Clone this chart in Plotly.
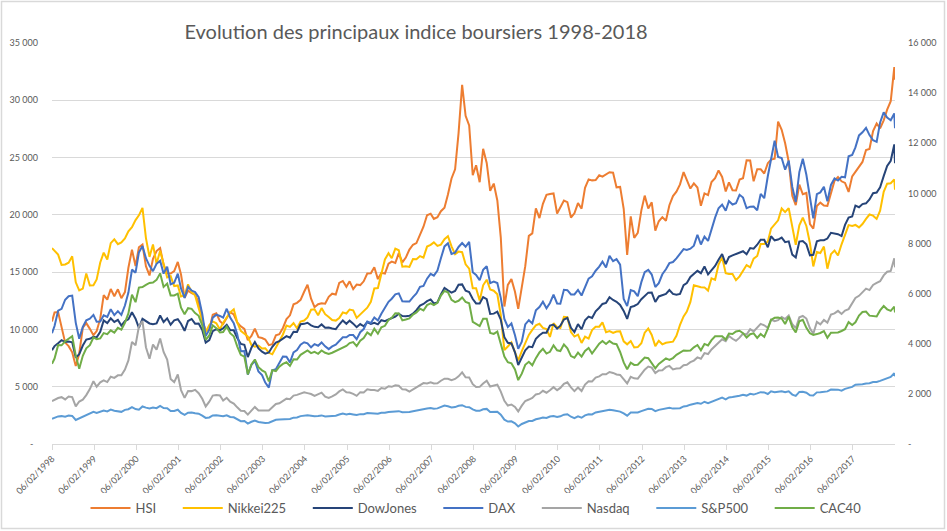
import pandas as pd
import plotly.graph_objects as go

# ---------------- data (start 06/02/1998, month-end values Feb-1998 .. Jan-2018, end 06/02/2018) -------------
start_date = "1998-02-06"
end_date = "2018-02-06"

HSI = [10700,
    11480, 11520, 10240, 8850, 8540, 8000, 6800, 7880, 10150, 10550, 10050,
    9500, 9860, 10940, 13000, 12600, 13530, 12900, 13500, 12730, 13260, 15380, 16960,
    15530, 17170, 17400, 15520, 14710, 16160, 16840, 17100, 15650, 14900, 14880, 15100,
    15890, 14790, 12760, 13390, 13170, 13040, 12320, 10770, 9950, 9970, 11280, 11400,
    10720, 10480, 11030, 11500, 11300, 10600, 10270, 10040, 9070, 9440, 10070, 9320,
    9250, 9120, 8630, 8720, 9490, 9580, 10130, 10900, 11230, 12190, 12320, 12580,
    13290, 13900, 12680, 11940, 12200, 12290, 12240, 12850, 13120, 13050, 14060, 14230,
    13720, 14200, 13520, 13910, 13870, 14200, 14880, 14900, 15430, 14390, 14940, 14880,
    15750, 15920, 15800, 16660, 15860, 16270, 16970, 17390, 17540, 18320, 18960, 19960,
    20100, 19650, 19800, 20320, 20630, 21770, 23180, 23980, 27140, 31350, 28640, 27810,
    23460, 24330, 22850, 25760, 24530, 22100, 22730, 21260, 18020, 12000, 13890, 14390,
    13280, 11800, 13580, 15520, 18170, 18380, 20570, 19720, 20960, 21750, 21820, 21870,
    20120, 20610, 21240, 21110, 19770, 20130, 21030, 20540, 22360, 23100, 23010, 23040,
    23450, 23340, 23530, 23720, 23680, 22400, 22440, 20530, 16500, 19860, 17990, 18430,
    20390, 21680, 20560, 21090, 18630, 19440, 19800, 19480, 20840, 21640, 22030, 22660,
    23730, 23020, 22300, 22740, 22390, 20800, 21880, 21730, 22860, 23210, 23880, 23310,
    22040, 22840, 22150, 22130, 23080, 23190, 24760, 24740, 22930, 23990, 23990, 23610,
    24510, 24820, 24900, 28130, 27420, 26250, 24640, 21670, 20850, 22640, 21800, 21910,
    19200, 18800, 20780, 21070, 20820, 20790, 21890, 22980, 23300, 22930, 22790, 22000,
    23360, 23740, 24110, 24620, 25660, 25760, 27320, 27970, 27550, 28250, 29180, 29920,
    32890,
    31800]

Nikkei225 = [17100,
    16830, 16530, 15640, 15670, 15830, 16380, 14110, 13410, 13560, 14880, 13840,
    13860, 14370, 15840, 16700, 16110, 17530, 17860, 17440, 17600, 17940, 18560, 18930,
    19540, 19960, 20600, 17970, 16330, 17410, 15730, 16860, 15750, 14540, 14650, 13790,
    13840, 12880, 12990, 13930, 13260, 12970, 11860, 10710, 9770, 10370, 10700, 10540,
    9990, 10590, 11020, 11490, 11760, 10620, 9880, 9620, 9380, 8640, 8500, 8580,
    8340, 8360, 7970, 7830, 8420, 9080, 9560, 10340, 10220, 10560, 10100, 10680,
    10780, 11040, 11720, 11760, 11240, 11860, 11330, 11080, 10820, 10770, 11000, 11490,
    11390, 11740, 11670, 11010, 11280, 11580, 11900, 12410, 13570, 13610, 14870, 16110,
    16650, 16210, 17060, 16910, 15470, 15510, 15460, 16140, 16130, 16400, 16270, 17230,
    17380, 17600, 17290, 17400, 17880, 18140, 17250, 16570, 16790, 16740, 15680, 15310,
    13590, 13600, 12530, 13850, 14340, 13480, 13380, 13070, 11260, 8200, 8510, 8860,
    7990, 7300, 8110, 8830, 9520, 9960, 10360, 10490, 10130, 10030, 9350, 10550,
    10200, 10130, 11090, 11060, 9770, 9380, 9540, 8820, 9370, 9200, 9940, 10230,
    10240, 10620, 9760, 9850, 9690, 9820, 9830, 8960, 8700, 8990, 8430, 8460,
    8800, 9720, 10080, 9520, 8540, 9010, 8700, 8840, 8870, 8930, 9450, 10400,
    11140, 11560, 12400, 13860, 13770, 13680, 13670, 13390, 14460, 14330, 15660, 16290,
    14910, 14840, 14830, 14300, 14630, 15160, 15620, 15420, 16170, 16410, 17460, 17450,
    17670, 18800, 19210, 19520, 20560, 20240, 20590, 18890, 17390, 19080, 19750, 19030,
    17520, 15500, 16760, 16670, 17230, 15300, 16570, 16890, 16450, 17430, 18310, 19110,
    19040, 19120, 18910, 19200, 19650, 20030, 19930, 19650, 20360, 22010, 22720, 22760,
    23100,
    22200]

DowJones = [8190,
    8545, 8800, 9063, 8900, 8952, 8883, 7539, 7843, 8592, 9117, 9181,
    9359, 9307, 9786, 10789, 10560, 10971, 10655, 10829, 10337, 10730, 10878, 11497,
    10941, 10128, 10922, 10734, 10522, 10448, 10522, 11215, 10651, 10971, 10415, 10788,
    10887, 10495, 9879, 10735, 10912, 10502, 10523, 9950, 8848, 9075, 9852, 10022,
    9920, 10106, 10404, 9946, 9925, 9243, 8737, 8664, 7592, 8397, 8896, 8342,
    8054, 7891, 7992, 8480, 8850, 8985, 9234, 9416, 9275, 9801, 9782, 10454,
    10488, 10584, 10358, 10226, 10188, 10435, 10140, 10174, 10080, 10027, 10428, 10783,
    10490, 10766, 10504, 10193, 10467, 10275, 10641, 10482, 10569, 10440, 10806, 10718,
    10865, 10993, 11109, 11367, 11168, 11150, 11186, 11381, 11679, 12081, 12222, 12463,
    12622, 12269, 12354, 13063, 13628, 13409, 13212, 13358, 13896, 13930, 13372, 13265,
    12650, 12266, 12263, 12820, 12638, 11350, 11378, 11544, 10851, 9325, 8829, 8776,
    8001, 6900, 7609, 8168, 8500, 8447, 9172, 9496, 9712, 9713, 10345, 10428,
    10067, 10325, 10857, 11009, 10137, 9774, 10466, 10015, 10788, 11118, 11006, 11578,
    11892, 12226, 12320, 12811, 12570, 12414, 12143, 11614, 10913, 11955, 12046, 12218,
    12633, 12952, 13212, 13214, 12393, 12880, 13009, 13091, 13437, 13096, 13026, 13104,
    13861, 14054, 14579, 14840, 15116, 14910, 15500, 14810, 15130, 15546, 16086, 16577,
    15699, 16322, 16458, 16581, 16717, 16827, 16563, 17098, 17043, 17391, 17828, 17823,
    17165, 18133, 17776, 17841, 18011, 17620, 17690, 16528, 16285, 17664, 17720, 17425,
    16466, 16517, 17685, 17774, 17787, 17930, 18432, 18401, 18308, 18142, 19124, 19763,
    19864, 20812, 20663, 20941, 21009, 21350, 21891, 21948, 22405, 23377, 24272, 24719,
    26149,
    24500]

DAX = [4420,
    4710, 5317, 5391, 5756, 5898, 5920, 4834, 4200, 4671, 4936, 5002,
    5150, 4880, 4885, 5135, 5070, 5378, 5140, 5300, 5150, 5524, 6040, 6958,
    6835, 7644, 7900, 7414, 7110, 6898, 7190, 7314, 6798, 7077, 6372, 6434,
    6795, 6208, 5830, 6265, 6123, 6058, 5862, 5188, 4308, 4560, 5041, 5160,
    5108, 5039, 5397, 5041, 4818, 4383, 3700, 3712, 2769, 3153, 3320, 2893,
    2748, 2450, 2250, 2942, 2983, 3221, 3487, 3485, 3257, 3656, 3745, 3965,
    4059, 4018, 3857, 3985, 3921, 4053, 3895, 3785, 3893, 3960, 4126, 4256,
    4255, 4350, 4349, 4185, 4461, 4587, 4887, 4830, 5044, 4929, 5193, 5408,
    5674, 5797, 5970, 6009, 5692, 5683, 5682, 5860, 6004, 6269, 6309, 6597,
    6789, 6716, 6917, 7409, 7883, 8007, 7584, 7638, 7862, 8019, 7871, 8067,
    6851, 6748, 6535, 6949, 7097, 6418, 6479, 6422, 5831, 4988, 4669, 4810,
    4338, 3800, 4085, 4770, 4941, 4809, 5332, 5465, 5675, 5415, 5625, 5957,
    5608, 5598, 6154, 6136, 5965, 5966, 6148, 5925, 6229, 6601, 6688, 6914,
    7077, 7273, 7041, 7514, 7294, 7376, 7159, 5785, 5502, 6141, 6089, 5898,
    6458, 6856, 6947, 6761, 6264, 6416, 6772, 6970, 7216, 7260, 7405, 7612,
    7776, 7741, 7795, 7914, 8349, 7959, 8276, 8103, 8594, 9033, 9406, 9552,
    9306, 9692, 9556, 9603, 9943, 9833, 9407, 9470, 9474, 9327, 9980, 9806,
    10694, 11402, 12100, 11454, 11414, 10945, 11309, 10259, 9660, 10850, 11382, 10743,
    9798, 9000, 9966, 10039, 10263, 9680, 10337, 10593, 10511, 10665, 10640, 11481,
    11535, 11834, 12313, 12438, 12615, 12325, 12118, 12056, 12829, 13230, 13024, 12918,
    13189,
    12600]

Nasdaq = [1710,
    1771, 1835, 1868, 1779, 1895, 1873, 1499, 1694, 1771, 1950, 2193,
    2506, 2288, 2461, 2543, 2471, 2686, 2638, 2739, 2746, 2966, 3336, 4069,
    3940, 4697, 4900, 3861, 3401, 3966, 3767, 4206, 3673, 3370, 2598, 2471,
    2773, 2152, 1840, 2116, 2110, 2161, 2027, 1805, 1499, 1690, 1931, 1950,
    1934, 1731, 1845, 1688, 1616, 1463, 1328, 1315, 1172, 1330, 1479, 1336,
    1321, 1338, 1341, 1464, 1596, 1623, 1735, 1810, 1787, 1932, 1960, 2003,
    2066, 2030, 1994, 1920, 1987, 2048, 1887, 1838, 1897, 1975, 2097, 2175,
    2062, 2052, 1999, 1922, 2068, 2057, 2185, 2152, 2152, 2120, 2233, 2205,
    2306, 2281, 2340, 2323, 2179, 2172, 2091, 2184, 2258, 2367, 2432, 2415,
    2464, 2416, 2422, 2525, 2605, 2603, 2546, 2596, 2701, 2859, 2661, 2652,
    2389, 2271, 2279, 2413, 2523, 2293, 2326, 2368, 2092, 1721, 1536, 1577,
    1476, 1300, 1529, 1717, 1774, 1835, 1979, 2009, 2122, 2045, 2145, 2269,
    2147, 2238, 2398, 2461, 2257, 2109, 2255, 2114, 2369, 2507, 2498, 2653,
    2700, 2782, 2781, 2873, 2835, 2774, 2756, 2579, 2415, 2684, 2620, 2605,
    2814, 2967, 3092, 3046, 2827, 2935, 2940, 3067, 3116, 2977, 3010, 3020,
    3142, 3160, 3268, 3329, 3456, 3403, 3626, 3590, 3771, 3920, 4060, 4177,
    4104, 4308, 4199, 4115, 4243, 4408, 4370, 4580, 4493, 4631, 4792, 4736,
    4635, 4964, 4901, 4941, 5070, 4987, 5128, 4777, 4620, 5054, 5109, 5007,
    4614, 4400, 4870, 4775, 4948, 4843, 5162, 5213, 5312, 5189, 5324, 5383,
    5615, 5825, 5912, 6048, 6199, 6140, 6348, 6429, 6496, 6728, 6874, 6903,
    7411,
    7050]

SP500 = [1008,
    1049, 1102, 1112, 1091, 1134, 1121, 957, 1017, 1099, 1164, 1229,
    1280, 1238, 1286, 1335, 1302, 1373, 1329, 1320, 1283, 1363, 1389, 1469,
    1394, 1366, 1499, 1452, 1421, 1455, 1431, 1518, 1437, 1429, 1315, 1320,
    1366, 1240, 1160, 1249, 1256, 1224, 1211, 1134, 1041, 1060, 1139, 1148,
    1130, 1107, 1147, 1077, 1067, 990, 912, 916, 815, 886, 936, 880,
    856, 841, 848, 917, 964, 975, 990, 1008, 996, 1051, 1058, 1112,
    1131, 1145, 1126, 1107, 1121, 1141, 1102, 1104, 1115, 1130, 1174, 1212,
    1181, 1204, 1181, 1157, 1192, 1191, 1234, 1220, 1229, 1207, 1249, 1248,
    1280, 1281, 1295, 1311, 1270, 1270, 1277, 1304, 1336, 1378, 1401, 1418,
    1438, 1407, 1421, 1482, 1531, 1503, 1455, 1474, 1527, 1549, 1481, 1468,
    1379, 1331, 1323, 1386, 1400, 1280, 1267, 1283, 1166, 969, 896, 903,
    826, 700, 798, 873, 919, 919, 987, 1021, 1057, 1036, 1096, 1115,
    1074, 1104, 1169, 1187, 1089, 1031, 1102, 1049, 1141, 1183, 1181, 1258,
    1286, 1327, 1326, 1364, 1345, 1321, 1292, 1219, 1131, 1253, 1247, 1258,
    1312, 1366, 1408, 1398, 1310, 1362, 1379, 1407, 1441, 1412, 1416, 1426,
    1498, 1515, 1569, 1598, 1631, 1606, 1686, 1633, 1682, 1757, 1806, 1848,
    1783, 1859, 1872, 1884, 1924, 1960, 1931, 2003, 1972, 2018, 2068, 2059,
    1995, 2105, 2068, 2086, 2107, 2063, 2104, 1972, 1920, 2079, 2080, 2044,
    1940, 1932, 2060, 2065, 2097, 2099, 2174, 2171, 2168, 2126, 2199, 2239,
    2279, 2364, 2363, 2384, 2412, 2423, 2470, 2472, 2519, 2575, 2648, 2674,
    2824,
    2700]

CAC40 = [3200,
    3409, 3945, 3937, 4100, 4205, 4300, 3525, 3000, 3520, 3820, 3943,
    4251, 4180, 4215, 4426, 4381, 4535, 4446, 4637, 4563, 4839, 5208, 5958,
    5659, 6243, 6262, 6349, 6426, 6446, 6547, 6808, 6267, 6399, 5929, 5926,
    5998, 5437, 5180, 5420, 5392, 5226, 5115, 4729, 4157, 4329, 4735, 4624,
    4448, 4465, 4688, 4422, 4301, 3898, 3555, 3482, 2777, 3175, 3372, 3064,
    2938, 2866, 2500, 2943, 2910, 3085, 3195, 3262, 3116, 3382, 3372, 3558,
    3638, 3731, 3625, 3674, 3600, 3733, 3640, 3594, 3640, 3706, 3753, 3821,
    3913, 4027, 4067, 3908, 4120, 4229, 4451, 4343, 4600, 4400, 4653, 4715,
    4948, 5034, 5220, 5211, 4930, 4966, 5009, 5166, 5250, 5399, 5329, 5542,
    5609, 5546, 5634, 5924, 6105, 6055, 5752, 5662, 5715, 5849, 5671, 5614,
    4870, 4790, 4707, 4997, 4996, 4434, 4392, 4483, 4033, 3487, 3263, 3218,
    2973, 2550, 2807, 3159, 3278, 3140, 3426, 3653, 3795, 3608, 3680, 3936,
    3739, 3708, 3974, 3816, 3508, 3443, 3643, 3487, 3715, 3833, 3610, 3805,
    4005, 4110, 3989, 4106, 4006, 3982, 3672, 3256, 2982, 3243, 3155, 3160,
    3298, 3452, 3424, 3213, 3017, 3196, 3292, 3414, 3355, 3429, 3557, 3641,
    3733, 3723, 3731, 3856, 3949, 3739, 3993, 3934, 4143, 4299, 4295, 4296,
    4166, 4408, 4391, 4487, 4519, 4423, 4246, 4381, 4416, 4233, 4390, 4273,
    4604, 4951, 5034, 5046, 5008, 4790, 5083, 4653, 4455, 4898, 4957, 4637,
    4417, 4354, 4385, 4429, 4506, 4237, 4440, 4438, 4448, 4509, 4578, 4862,
    4749, 4858, 5123, 5267, 5283, 5121, 5094, 5086, 5330, 5503, 5373, 5313,
    5482,
    5250]

left_ticks = [0, 5000, 10000, 15000, 20000, 25000, 30000, 35000]
left_ticktext = ["-  ", "5 000", "10 000", "15 000", "20 000", "25 000", "30 000", "35 000"]
right_ticks = [0, 2000, 4000, 6000, 8000, 10000, 12000, 14000, 16000]
right_ticktext = ["-", "2 000", "4 000", "6 000", "8 000", "10 000", "12 000", "14 000", "16 000"]
x_tick_years = list(range(1998, 2018))

# ---------------- figure -------------
month_ends = pd.date_range(start="1998-02-28", periods=240, freq=pd.offsets.MonthEnd())
dates = [pd.Timestamp(start_date)] + list(month_ends) + [pd.Timestamp(end_date)]

series_left = [("HSI", HSI, "#ED7D31"), ("Nikkei225", Nikkei225, "#FFC000"),
               ("DowJones", DowJones, "#264478")]
series_right = [("DAX", DAX, "#4472C4"), ("Nasdaq", Nasdaq, "#A5A5A5"),
                ("S&P500", SP500, "#5B9BD5"), ("CAC40", CAC40, "#70AD47")]

PAD = "\u00a0" * 5  # extra spacing between legend entries

fig = go.Figure()
for name, vals, col in series_left:
    assert len(vals) == len(dates)
    fig.add_trace(go.Scatter(x=dates, y=vals, name=name + PAD, mode="lines",
                             line=dict(color=col, width=2), yaxis="y"))
for name, vals, col in series_right:
    assert len(vals) == len(dates)
    fig.add_trace(go.Scatter(x=dates, y=vals, name=name + PAD, mode="lines",
                             line=dict(color=col, width=2), yaxis="y2"))

txt = "#595959"
grid = "#D9D9D9"
font_family = "Lato, 'Open Sans', sans-serif"

fig.update_layout(
    width=947, height=531,
    margin=dict(l=52, r=52, t=43, b=87, autoexpand=False),
    paper_bgcolor="white", plot_bgcolor="white",
    font=dict(family=font_family, color=txt),
    title=dict(text="Evolution des principaux indice boursiers 1998-2018",
               x=416 / 947, xanchor="center", xref="container",
               y=1 - 32 / 531, yanchor="middle", yref="container",
               font=dict(size=20, color=txt, family=font_family)),
    xaxis=dict(type="date", range=[start_date, end_date],
               tickvals=[f"{y}-02-06" for y in x_tick_years],
               ticktext=[f"06/02/{y}" for y in x_tick_years],
               tickangle=-45, tickfont=dict(size=9, color=txt),
               showgrid=False, showline=True, linecolor=grid, linewidth=1,
               ticks="outside", ticklen=5, tickcolor=grid, zeroline=False,
               automargin=False),
    yaxis=dict(range=[0, 35000], tickvals=left_ticks, ticktext=left_ticktext,
               tickfont=dict(size=9, color=txt), showgrid=True, gridcolor=grid,
               gridwidth=1, zeroline=False, showline=False, ticklabelstandoff=13,
               automargin=False),
    yaxis2=dict(range=[0, 16000], tickvals=right_ticks, ticktext=right_ticktext,
                overlaying="y", side="right", tickfont=dict(size=9, color=txt),
                showgrid=False, zeroline=False, showline=False, ticklabelstandoff=12,
                automargin=False),
    legend=dict(orientation="h", x=484 / 947, xanchor="center", xref="container",
                y=1 - 508 / 531, yanchor="middle", yref="container",
                itemwidth=40, font=dict(size=13, color=txt), traceorder="normal"),
    showlegend=True,
)

# chart border
fig.add_shape(type="rect", xref="paper", yref="paper",
              x0=(1.5 - 52) / 843, x1=(944.5 - 52) / 843,
              y0=(444 - 528.5) / 401, y1=(444 - 1.5) / 401,
              line=dict(color=grid, width=1.5), fillcolor="rgba(0,0,0,0)", layer="below")

fig.write_html("out.html", config={"displayModeBar": False},
               post_script="document.body.style.margin='0px';document.body.style.overflow='hidden';")
